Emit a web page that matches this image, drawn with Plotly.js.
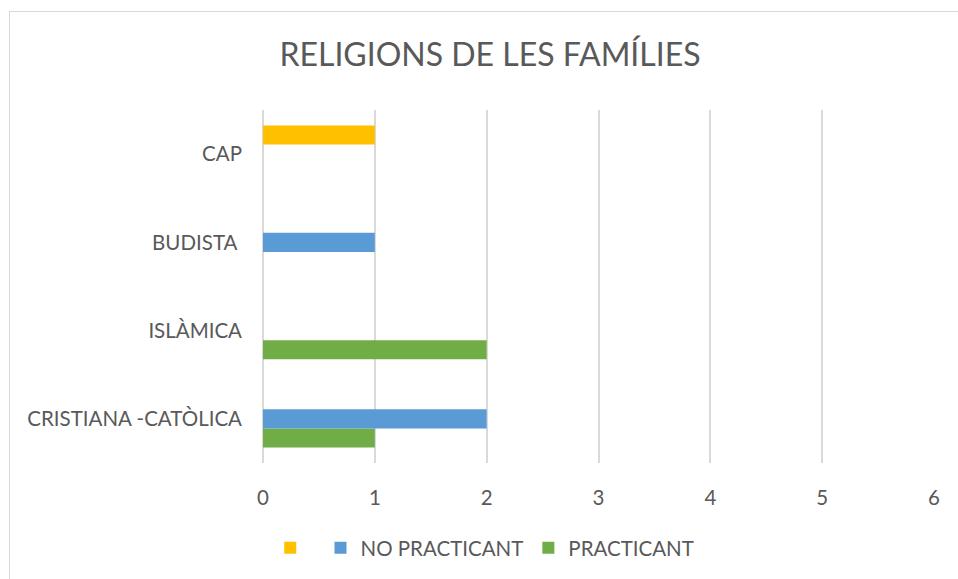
<!DOCTYPE html>
<html>
<head>
<meta charset="utf-8">
<script src="https://cdn.plot.ly/plotly-3.0.1.min.js"></script>
<style>
html,body{margin:0;padding:0;background:#fff;}
#frame{position:absolute;left:9px;top:11px;width:980px;height:600px;border:1px solid #d9d9d9;box-sizing:border-box;}
#chart{position:absolute;left:0;top:0;width:958px;height:579px;}
</style>
</head>
<body>
<div id="frame"></div>
<div id="chart"></div>
<script>
var categories = ["CRISTIANA -CATÒLICA", "ISLÀMICA", "BUDISTA ", "CAP"];
var practicant = [1, 2, null, null];
var noPracticant = [2, null, 1, null];
var cap = [null, null, null, 1];
var seriesNames = ["PRACTICANT", "NO PRACTICANT", " "];
var xTicks = [0, 1, 2, 3, 4, 5, 6];

var font = "Lato, 'Open Sans', sans-serif";
var txt = "#595959";

var traces = [
  {type: "bar", orientation: "h", y: categories, x: practicant, name: seriesNames[0], marker: {color: "#70AD47"}, hoverinfo: "x+y"},
  {type: "bar", orientation: "h", y: categories, x: noPracticant, name: seriesNames[1], marker: {color: "#5B9BD5"}, hoverinfo: "x+y"},
  {type: "bar", orientation: "h", y: categories, x: cap, name: seriesNames[2], marker: {color: "#FFC000"}, hoverinfo: "x+y"}
];

var layout = {
  width: 958, height: 579,
  paper_bgcolor: "rgba(0,0,0,0)", plot_bgcolor: "rgba(0,0,0,0)",
  margin: {l: 263, r: 24, t: 110, b: 116, pad: 0},
  barmode: "group", bargap: 0.35, bargroupgap: 0,
  font: {family: font, color: txt, size: 20.5},
  title: {text: "RELIGIONS DE LES FAMÍLIES", font: {family: font, size: 32, color: txt}, x: 490/958, xref: "container", xanchor: "center", y: 1 - 55/579, yref: "container", yanchor: "middle"},
  xaxis: {range: [0, 6], tickvals: xTicks, ticktext: xTicks.map(String), showgrid: true, gridcolor: "#D9D9D9", gridwidth: 1.5, zeroline: true, zerolinecolor: "#D9D9D9", zerolinewidth: 1.5, showline: false, ticks: "", ticklabelstandoff: 20, tickfont: {size: 20.5, color: txt}, fixedrange: true},
  yaxis: {type: "category", categoryorder: "array", categoryarray: categories, showgrid: false, zeroline: false, showline: false, ticks: "", ticklabelstandoff: 20, tickfont: {size: 20.5, color: txt}, fixedrange: true},
  showlegend: true,
  legend: {orientation: "h", traceorder: "reversed", x: 0.506, xref: "container", xanchor: "center", y: 1 - 548/579, yref: "container", yanchor: "middle", font: {size: 20.5, color: txt}, itemwidth: 30}
};

Plotly.newPlot("chart", traces, layout, {displayModeBar: false});
</script>
</body>
</html>
